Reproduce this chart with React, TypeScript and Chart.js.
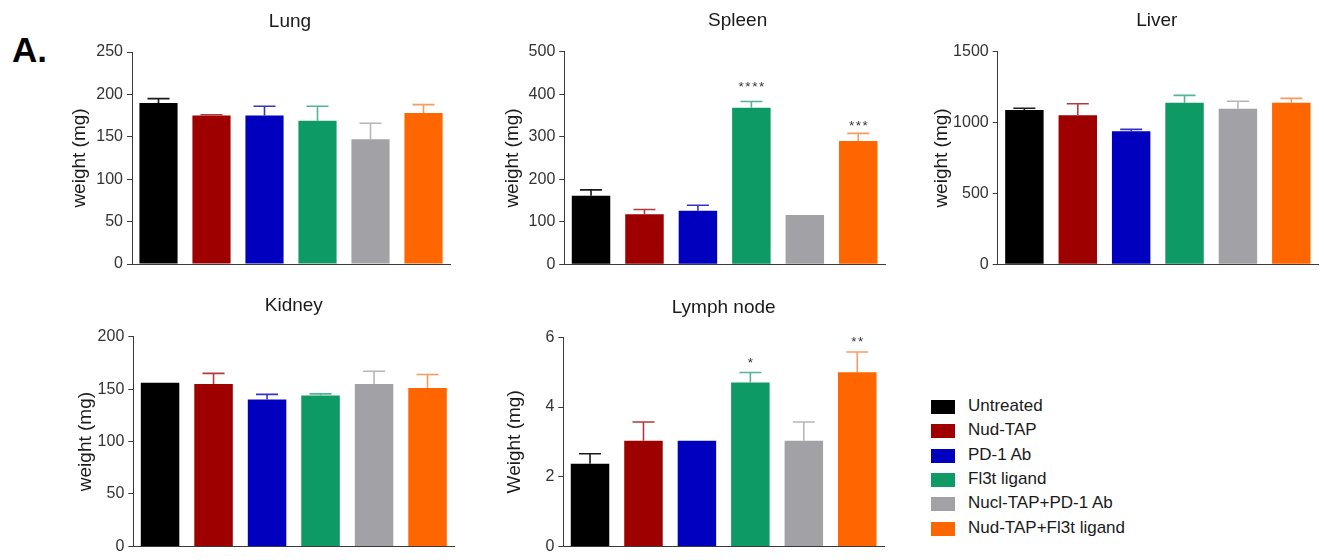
import React, { useEffect, useRef } from "react";
import { Chart, registerables } from "chart.js";

Chart.register(...registerables);

const FONT = '"Liberation Sans", Arial, sans-serif';

// ---------- data ----------
const groups = [
  "Untreated",
  "Nud-TAP",
  "PD-1 Ab",
  "Fl3t ligand",
  "Nucl-TAP+PD-1 Ab",
  "Nud-TAP+Fl3t ligand",
];
const barColors = ["#000000", "#9E0000", "#0000BE", "#0E9A64", "#A2A2A6", "#FF6600"];
const errColors = ["#1a1a1a", "#b23a3a", "#3434c4", "#52b596", "#b6b6ba", "#fb9a60"];

const lungMean = [190, 175, 175, 169, 147, 178];
const lungErr = [5, 1, 11, 17, 19, 10];
const lungTicks = [0, 50, 100, 150, 200, 250];

const spleenMean = [161, 118, 126, 368, 116, 290];
const spleenErr = [14, 11, 13, 15, 0, 18];
const spleenTicks = [0, 100, 200, 300, 400, 500];
const spleenStars = ["", "", "", "****", "", "***"];
const spleenStarY = [0, 0, 0, 426, 0, 335];

const liverMean = [1089, 1051, 938, 1140, 1098, 1140];
const liverErr = [12, 82, 14, 52, 52, 31];
const liverTicks = [0, 500, 1000, 1500];

const kidneyMean = [156, 155, 140, 144, 155, 151];
const kidneyErr = [0, 10, 5, 1.5, 12, 13];
const kidneyTicks = [0, 50, 100, 150, 200];

const lymphMean = [2.37, 3.03, 3.03, 4.7, 3.03, 5.0];
const lymphErr = [0.29, 0.54, 0, 0.29, 0.54, 0.58];
const lymphTicks = [0, 2, 4, 6];
const lymphStars = ["", "", "", "*", "", "**"];
const lymphStarY = [0, 0, 0, 5.38, 0, 5.97];

// ---------- panel layout ----------
type Panel = {
  title: string;
  yTitle: string;
  mean: number[];
  err: number[];
  ticks: number[];
  stars?: string[];
  starY?: number[];
  box: { left: number; top: number; w: number; h: number };
  area: { l: number; r: number; t: number; b: number };
  titleY: number;
  titleDx: number;
  yOff: number;
};

const panels: Panel[] = [
  {
    title: "Lung", yTitle: "weight (mg)", mean: lungMean, err: lungErr, ticks: lungTicks,
    box: { left: 0, top: 0, w: 460, h: 280 }, area: { l: 132, r: 450, t: 52, b: 264 },
    titleY: 21.5, titleDx: -1, yOff: 52,
  },
  {
    title: "Spleen", yTitle: "weight (mg)", mean: spleenMean, err: spleenErr, ticks: spleenTicks,
    stars: spleenStars, starY: spleenStarY,
    box: { left: 460, top: 0, w: 440, h: 280 }, area: { l: 104.3, r: 425, t: 51.7, b: 264.3 },
    titleY: 21, titleDx: 13, yOff: 52,
  },
  {
    title: "Liver", yTitle: "weight (mg)", mean: liverMean, err: liverErr, ticks: liverTicks,
    box: { left: 900, top: 0, w: 424, h: 280 }, area: { l: 97.7, r: 418, t: 51.7, b: 264.3 },
    titleY: 20.7, titleDx: -1, yOff: 56,
  },
  {
    title: "Kidney", yTitle: "weight (mg)", mean: kidneyMean, err: kidneyErr, ticks: kidneyTicks,
    box: { left: 0, top: 280, w: 460, h: 280 }, area: { l: 133.3, r: 454.3, t: 56.7, b: 269.3 },
    titleY: 26, titleDx: 0, yOff: 48,
  },
  {
    title: "Lymph node", yTitle: "Weight (mg)", mean: lymphMean, err: lymphErr, ticks: lymphTicks,
    stars: lymphStars, starY: lymphStarY,
    box: { left: 460, top: 280, w: 440, h: 280 }, area: { l: 103.3, r: 424, t: 57.3, b: 269.3 },
    titleY: 28, titleDx: 0, yOff: 49,
  },
];

const Y_WIDTH = 70;
const Y_TITLE_SIZE = 19;

function makeOverlayPlugin(p: Panel) {
  return {
    id: "overlay_" + p.title.replace(/\s/g, ""),
    afterDatasetsDraw(chart: any) {
      const ctx = chart.ctx;
      const meta = chart.getDatasetMeta(0);
      const ys = chart.scales.y;
      ctx.save();
      meta.data.forEach((bar: any, i: number) => {
        const e = p.err[i];
        if (!e) return;
        const top = ys.getPixelForValue(p.mean[i] + e);
        const cap = 22;
        ctx.strokeStyle = errColors[i];
        ctx.lineWidth = 1.6;
        ctx.beginPath();
        ctx.moveTo(bar.x, bar.y);
        ctx.lineTo(bar.x, top);
        ctx.moveTo(bar.x - cap / 2, top);
        ctx.lineTo(bar.x + cap / 2, top);
        ctx.stroke();
      });
      if (p.stars && p.starY) {
        ctx.fillStyle = "#333333";
        const fs = 13.5;
        ctx.font = `normal ${fs}px ${FONT}`;
        ctx.textAlign = "center";
        ctx.textBaseline = "alphabetic";
        (ctx as any).letterSpacing = "1.5px";
        meta.data.forEach((bar: any, i: number) => {
          const s = p.stars![i];
          if (!s) return;
          const cy = ys.getPixelForValue(p.starY![i]);
          ctx.fillText(s, bar.x + 0.75, cy + fs * 0.58);
        });
      }
      ctx.restore();
    },
    afterDraw(chart: any) {
      const ctx = chart.ctx;
      const a = chart.chartArea;
      ctx.save();
      ctx.fillStyle = "#1a1a1a";
      ctx.font = `normal 19px ${FONT}`;
      ctx.textAlign = "center";
      ctx.textBaseline = "middle";
      ctx.fillText(p.title, (a.left + a.right) / 2 + p.titleDx, p.titleY);
      ctx.restore();
    },
  };
}

function PanelChart({ p }: { p: Panel }) {
  const ref = useRef<HTMLCanvasElement | null>(null);
  useEffect(() => {
    if (!ref.current) return;
    const max = p.ticks[p.ticks.length - 1];
    const step = p.ticks[1] - p.ticks[0];
    const chart = new Chart(ref.current, {
      type: "bar",
      data: {
        labels: groups,
        datasets: [
          {
            data: p.mean,
            backgroundColor: barColors,
            borderWidth: 0,
            barPercentage: 0.72,
            categoryPercentage: 1,
          },
        ],
      },
      options: {
        animation: false,
        responsive: false,
        maintainAspectRatio: false,
        events: [],
        layout: {
          padding: {
            left: p.area.l - Y_WIDTH,
            right: p.box.w - p.area.r,
            top: p.area.t,
            bottom: p.box.h - p.area.b,
          },
        },
        plugins: {
          legend: { display: false },
          tooltip: { enabled: false },
          title: { display: false },
        },
        scales: {
          x: {
            grid: { display: false },
            ticks: { display: false },
            border: { display: true, color: "#3a3a3a", width: 1 },
            afterFit: (s: any) => {
              s.height = 0;
            },
          },
          y: {
            min: 0,
            max,
            afterBuildTicks: (s: any) => {
              s.ticks = p.ticks.map((v) => ({ value: v }));
            },
            ticks: {
              stepSize: step,
              padding: 4,
              color: "#333333",
              font: { family: FONT, size: 16 },
              callback: (v: any) => String(v),
            },
            grid: {
              drawOnChartArea: false,
              drawTicks: true,
              tickLength: 5,
              color: "#3a3a3a",
            },
            border: { display: true, color: "#3a3a3a", width: 1 },
            title: {
              display: true,
              text: p.yTitle,
              color: "#1a1a1a",
              font: { family: FONT, size: Y_TITLE_SIZE },
              padding: { top: Y_WIDTH - p.yOff - (Y_TITLE_SIZE * 1.2) / 2, bottom: 0 },
            },
            afterFit: (s: any) => {
              s.width = Y_WIDTH;
            },
          },
        },
      },
      plugins: [makeOverlayPlugin(p)],
    } as any);
    return () => chart.destroy();
  }, [p]);
  return (
    <canvas
      ref={ref}
      width={p.box.w}
      height={p.box.h}
      style={{
        position: "absolute",
        left: p.box.left,
        top: p.box.top,
        width: p.box.w,
        height: p.box.h,
      }}
    />
  );
}

function Legend() {
  const step = 24.3;
  const fs = 17;
  return (
    <>
      {groups.map((g, i) => (
        <React.Fragment key={g}>
          <div
            style={{
              position: "absolute",
              left: 931,
              top: 400 + i * step,
              width: 24,
              height: 14,
              background: barColors[i],
            }}
          />
          <div
            style={{
              position: "absolute",
              left: 968,
              top: 405.5 + i * step - 0.4885 * fs,
              fontFamily: FONT,
              fontSize: fs,
              lineHeight: 1,
              color: "#1a1a1a",
              whiteSpace: "nowrap",
            }}
          >
            {g}
          </div>
        </React.Fragment>
      ))}
    </>
  );
}

export default function App() {
  return (
    <div
      style={{
        position: "fixed",
        left: 0,
        top: 0,
        width: 1324,
        height: 560,
        background: "#ffffff",
        overflow: "hidden",
      }}
    >
      <div
        style={{
          position: "absolute",
          left: 12,
          top: 32.4,
          fontFamily: FONT,
          fontWeight: "bold",
          fontSize: 35,
          lineHeight: 1,
          color: "#000",
        }}
      >
        A.
      </div>
      {panels.map((p) => (
        <PanelChart key={p.title} p={p} />
      ))}
      <Legend />
    </div>
  );
}
